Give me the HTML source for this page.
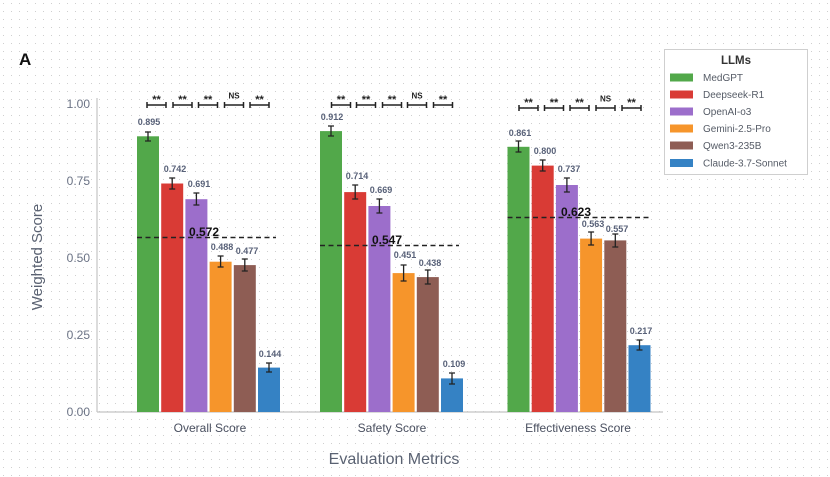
<!DOCTYPE html>
<html>
<head>
<meta charset="utf-8">
<style>
html,body{margin:0;padding:0;background:#fff;}
svg{display:block;}
text{font-family:"Liberation Sans",sans-serif;}
</style>
</head>
<body>
<svg width="830" height="477" viewBox="0 0 830 477" xmlns="http://www.w3.org/2000/svg">
<defs>
<pattern id="dots" width="8" height="8" patternUnits="userSpaceOnUse">
<rect x="3" y="3" width="1" height="1" fill="#cfcfcf"/>
</pattern>
</defs>
<rect width="830" height="477" fill="#fff"/>
<rect width="830" height="477" fill="url(#dots)"/>

<!-- Panel letter -->
<text x="19" y="65" font-size="17" font-weight="bold" fill="#111">A</text>

<!-- Axes -->
<line x1="97" y1="98" x2="97" y2="412" stroke="#c4c4c4" stroke-width="1.2"/>
<line x1="97" y1="412" x2="663" y2="412" stroke="#c4c4c4" stroke-width="1.2"/>

<!-- Y tick labels -->
<g font-size="12" fill="#6b7385" text-anchor="end">
<text x="90" y="108">1.00</text>
<text x="90" y="185">0.75</text>
<text x="90" y="262">0.50</text>
<text x="90" y="339">0.25</text>
<text x="90" y="416">0.00</text>
</g>

<!-- Axis titles -->
<text transform="translate(42,257) rotate(-90)" font-size="15" fill="#5a6272" text-anchor="middle">Weighted Score</text>
<text x="394" y="464" font-size="16" fill="#5a6272" text-anchor="middle">Evaluation Metrics</text>

<!-- X tick labels -->
<g font-size="12" fill="#4a5060" text-anchor="middle">
<text x="210" y="432">Overall Score</text>
<text x="392" y="432">Safety Score</text>
<text x="578" y="432">Effectiveness Score</text>
</g>

<!-- Group 1 bars: y(v)=412-308v -->
<g>
<rect x="137" y="136.3" width="22" height="275.7" fill="#52a84a"/>
<rect x="161.2" y="183.5" width="22" height="228.5" fill="#d93b35"/>
<rect x="185.4" y="199.2" width="22" height="212.8" fill="#9c6ecb"/>
<rect x="209.6" y="261.7" width="22" height="150.3" fill="#f6952b"/>
<rect x="233.8" y="265.1" width="22" height="146.9" fill="#8e5d54"/>
<rect x="258" y="367.6" width="22" height="44.4" fill="#3582c4"/>
</g>
<!-- Group 2 bars -->
<g>
<rect x="320" y="131.1" width="22" height="280.9" fill="#52a84a"/>
<rect x="344.2" y="192.1" width="22" height="219.9" fill="#d93b35"/>
<rect x="368.4" y="206" width="22" height="206" fill="#9c6ecb"/>
<rect x="392.6" y="273.1" width="22" height="138.9" fill="#f6952b"/>
<rect x="416.8" y="277.1" width="22" height="134.9" fill="#8e5d54"/>
<rect x="441" y="378.4" width="22" height="33.6" fill="#3582c4"/>
</g>
<!-- Group 3 bars -->
<g>
<rect x="507.5" y="146.8" width="22" height="265.2" fill="#52a84a"/>
<rect x="531.7" y="165.6" width="22" height="246.4" fill="#d93b35"/>
<rect x="555.9" y="185" width="22" height="227" fill="#9c6ecb"/>
<rect x="580.1" y="238.6" width="22" height="173.4" fill="#f6952b"/>
<rect x="604.3" y="240.4" width="22" height="171.6" fill="#8e5d54"/>
<rect x="628.5" y="345.2" width="22" height="66.8" fill="#3582c4"/>
</g>

<!-- Error bars -->
<g stroke="#222" stroke-width="1.3" fill="none">
<!-- G1 -->
<path d="M148 132v9M145 132h6M145 141h6"/>
<path d="M172.2 178v11M169.2 178h6M169.2 189h6"/>
<path d="M196.4 193v12M193.4 193h6M193.4 205h6"/>
<path d="M220.6 256v11M217.6 256h6M217.6 267h6"/>
<path d="M244.8 259v12M241.8 259h6M241.8 271h6"/>
<path d="M269 363v9M266 363h6M266 372h6"/>
<!-- G2 -->
<path d="M331 126v10M328 126h6M328 136h6"/>
<path d="M355.2 185v14M352.2 185h6M352.2 199h6"/>
<path d="M379.4 199v14M376.4 199h6M376.4 213h6"/>
<path d="M403.6 265v16M400.6 265h6M400.6 281h6"/>
<path d="M427.8 270v14M424.8 270h6M424.8 284h6"/>
<path d="M452 373v11M449 373h6M449 384h6"/>
<!-- G3 -->
<path d="M518.5 141v11M515.5 141h6M515.5 152h6"/>
<path d="M542.7 160v11M539.7 160h6M539.7 171h6"/>
<path d="M566.9 178v14M563.9 178h6M563.9 192h6"/>
<path d="M591.1 232v13M588.1 232h6M588.1 245h6"/>
<path d="M615.3 234v13M612.3 234h6M612.3 247h6"/>
<path d="M639.5 340v10M636.5 340h6M636.5 350h6"/>
</g>

<!-- Value labels -->
<g font-size="9" font-weight="bold" fill="#586178" text-anchor="middle">
<text x="149" y="125">0.895</text>
<text x="175" y="172">0.742</text>
<text x="199" y="187">0.691</text>
<text x="222" y="250">0.488</text>
<text x="247" y="254">0.477</text>
<text x="270" y="357">0.144</text>
<text x="332" y="120">0.912</text>
<text x="357" y="179">0.714</text>
<text x="381" y="193">0.669</text>
<text x="405" y="258">0.451</text>
<text x="430" y="266">0.438</text>
<text x="454" y="367">0.109</text>
<text x="520" y="136">0.861</text>
<text x="545" y="154">0.800</text>
<text x="569" y="172">0.737</text>
<text x="593" y="227">0.563</text>
<text x="617" y="232">0.557</text>
<text x="641" y="334">0.217</text>
</g>

<!-- Mean dashed lines -->
<g stroke="#222" stroke-width="1.5" stroke-dasharray="5,3.5" fill="none">
<line x1="137" y1="237.5" x2="276" y2="237.5"/>
<line x1="320" y1="245.5" x2="459" y2="245.5"/>
<line x1="507.5" y1="217.5" x2="649" y2="217.5"/>
</g>
<g font-size="12" font-weight="bold" fill="#111" text-anchor="middle">
<text x="204" y="236">0.572</text>
<text x="387" y="244">0.547</text>
<text x="576" y="216">0.623</text>
</g>

<!-- Significance brackets -->
<g stroke="#222" stroke-width="1.5" fill="none">
<path d="M147 105h19M147 102v6M166 102v6"/>
<path d="M173 105h19M173 102v6M192 102v6"/>
<path d="M198.5 105h19M198.5 102v6M217.5 102v6"/>
<path d="M224.5 105h19M224.5 102v6M243.5 102v6"/>
<path d="M250 105h19M250 102v6M269 102v6"/>

<path d="M331.5 105h19M331.5 102v6M350.5 102v6"/>
<path d="M356.5 105h19M356.5 102v6M375.5 102v6"/>
<path d="M382.5 105h19M382.5 102v6M401.5 102v6"/>
<path d="M407.5 105h19M407.5 102v6M426.5 102v6"/>
<path d="M433.5 105h19M433.5 102v6M452.5 102v6"/>

<path d="M519 108h19M519 105v6M538 105v6"/>
<path d="M544.5 108h19M544.5 105v6M563.5 105v6"/>
<path d="M570 108h19M570 105v6M589 105v6"/>
<path d="M596 108h19M596 105v6M615 105v6"/>
<path d="M622 108h19M622 105v6M641 105v6"/>
</g>
<g font-size="11" font-weight="bold" fill="#222" text-anchor="middle">
<text x="156.5" y="103">**</text>
<text x="182.5" y="103">**</text>
<text x="208" y="103">**</text>
<text x="259.5" y="103">**</text>
<text x="341" y="103">**</text>
<text x="366" y="103">**</text>
<text x="392" y="103">**</text>
<text x="443" y="103">**</text>
<text x="528.5" y="106">**</text>
<text x="554" y="106">**</text>
<text x="579.5" y="106">**</text>
<text x="631.5" y="106">**</text>
</g>
<g font-size="8" font-weight="bold" fill="#222" text-anchor="middle">
<text x="234" y="98.5">NS</text>
<text x="417" y="98.5">NS</text>
<text x="605.5" y="101.5">NS</text>
</g>

<!-- Legend -->
<rect x="664.5" y="49.5" width="143" height="125" fill="#fff" stroke="#cfcfcf" stroke-width="1"/>
<text x="736" y="64" font-size="11.5" font-weight="bold" fill="#333" text-anchor="middle">LLMs</text>
<g>
<rect x="670" y="73.5" width="23" height="8" fill="#52a84a"/>
<rect x="670" y="90.5" width="23" height="8" fill="#d93b35"/>
<rect x="670" y="107.5" width="23" height="8" fill="#9c6ecb"/>
<rect x="670" y="124.5" width="23" height="8" fill="#f6952b"/>
<rect x="670" y="141.5" width="23" height="8" fill="#8e5d54"/>
<rect x="670" y="159" width="23" height="8" fill="#3582c4"/>
</g>
<g font-size="10" fill="#555b66">
<text x="703" y="81">MedGPT</text>
<text x="703" y="98">Deepseek-R1</text>
<text x="703" y="115">OpenAI-o3</text>
<text x="703" y="132">Gemini-2.5-Pro</text>
<text x="703" y="149">Qwen3-235B</text>
<text x="703" y="166.5">Claude-3.7-Sonnet</text>
</g>
</svg>
</body>
</html>
